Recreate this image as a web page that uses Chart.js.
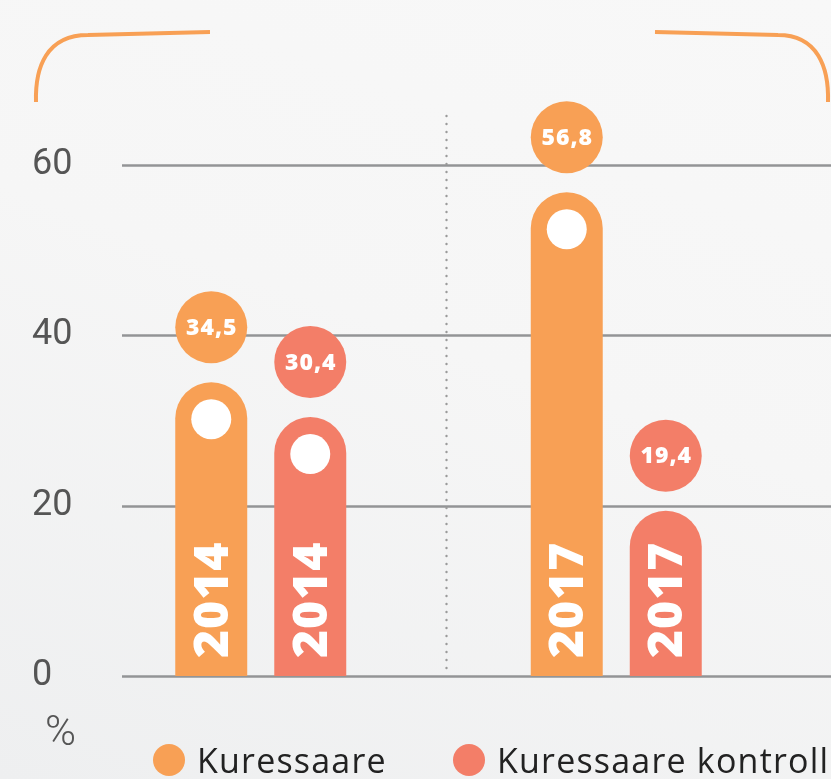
<!DOCTYPE html>
<html>
<head>
<meta charset="utf-8">
<script src="https://cdn.jsdelivr.net/npm/chart.js@4/dist/chart.umd.min.js"></script>
<style>
  html, body { margin: 0; padding: 0; }
  body { width: 831px; height: 779px; overflow: hidden;
         background: linear-gradient(20deg, #eeeff0 0%, #f6f6f6 55%, #f8f8f8 100%); }
  #wrap { position: relative; width: 831px; height: 779px; }
  #c { position: absolute; left: 0; top: 0; }
  .unit { position: absolute; left: 45px; top: 710px; font: 300 42px Roboto, sans-serif; color: #555; line-height: 42px; }
  .leg { position: absolute; top: 738px; font: 500 34px "Open Sans", sans-serif; letter-spacing: 1.2px;
         color: #222; white-space: nowrap; line-height: 44px; }
  .leg i { position: absolute; left: -44px; top: 6px; width: 32px; height: 32px; border-radius: 50%; }
</style>
</head>
<body>
<div id="wrap">
  <canvas id="c" width="831" height="779"></canvas>
  <div class="unit">%</div>
  <div id="legend"></div>
</div>
<script>
// ---- data ----
const categories = ['2014', '2017'];
const seriesNames = ['Kuressaare', 'Kuressaare kontroll'];
const kuressaare = [34.5, 56.8];
const kuressaareKontroll = [30.4, 19.4];
const yTicks = [0, 20, 40, 60];
const colors = ['#F8A055', '#F37E68'];

const fmt = v => v.toFixed(1).replace('.', ',');

// legend (HTML)
const legendPos = [197, 497];
const legendEl = document.getElementById('legend');
seriesNames.forEach((n, i) => {
  const d = document.createElement('div');
  d.className = 'leg';
  d.style.left = legendPos[i] + 'px';
  d.innerHTML = '<i style="background:' + colors[i] + '"></i>' + n;
  legendEl.appendChild(d);
});

const decor = {
  id: 'decor',
  beforeDatasetsDraw(chart) {
    const ctx = chart.ctx;
    const y = chart.scales.y, x = chart.scales.x;
    ctx.save();
    // grid lines
    ctx.strokeStyle = '#939496';
    ctx.lineWidth = 2.5;
    yTicks.forEach(t => {
      const py = Math.round(y.getPixelForValue(t)) + 0.5;
      ctx.beginPath();
      ctx.moveTo(122, py);
      ctx.lineTo(chart.width, py);
      ctx.stroke();
    });
    // dotted separator
    const sx = (x.getPixelForValue(0) + x.getPixelForValue(1)) / 2 + 8;
    ctx.fillStyle = '#9a9a9a';
    for (let py = 116; py < y.getPixelForValue(0) - 3; py += 8) {
      ctx.beginPath();
      ctx.arc(sx, py, 1.2, 0, Math.PI * 2);
      ctx.fill();
    }
    // top brackets
    ctx.strokeStyle = '#F8A055';
    ctx.lineWidth = 4;
    ctx.lineCap = 'butt';
    ctx.beginPath();
    ctx.moveTo(210, 32);
    ctx.lineTo(88, 35);
    ctx.bezierCurveTo(46, 35, 35, 68, 36, 102);
    ctx.stroke();
    ctx.beginPath();
    ctx.moveTo(655, 32);
    ctx.lineTo(778, 35);
    ctx.bezierCurveTo(818, 35, 829, 68, 828, 102);
    ctx.stroke();
    ctx.restore();
  },
  afterDatasetsDraw(chart) {
    const ctx = chart.ctx;
    ctx.save();
    chart.data.datasets.forEach((ds, di) => {
      const meta = chart.getDatasetMeta(di);
      meta.data.forEach((el, i) => {
        const v = ds.data[i];
        const cx = el.x, top = el.y;
        // value bubble
        ctx.fillStyle = colors[di];
        ctx.beginPath();
        ctx.arc(cx, top - 55, 36, 0, Math.PI * 2);
        ctx.fill();
        ctx.fillStyle = '#fff';
        ctx.font = '800 23px "Open Sans", sans-serif';
        ctx.letterSpacing = '1px';
        ctx.textAlign = 'center';
        ctx.textBaseline = 'middle';
        ctx.fillText(fmt(v), cx + 0.5, top - 54);
        // white dot on tall bars
        if (v > 25) {
          ctx.beginPath();
          ctx.arc(cx, top + 37, 20, 0, Math.PI * 2);
          ctx.fill();
        }
        // vertical year label
        ctx.save();
        ctx.translate(cx + 1, el.base - 18);
        ctx.rotate(-Math.PI / 2);
        ctx.font = '800 48px "Open Sans", sans-serif';
        ctx.letterSpacing = '1px';
        ctx.textAlign = 'left';
        ctx.textBaseline = 'middle';
        ctx.fillText(categories[i], 0, 2);
        ctx.restore();
      });
    });
    ctx.restore();
  }
};

new Chart(document.getElementById('c'), {
  type: 'bar',
  data: {
    labels: categories,
    datasets: [
      { label: seriesNames[0], data: kuressaare, backgroundColor: colors[0] },
      { label: seriesNames[1], data: kuressaareKontroll, backgroundColor: colors[1] }
    ]
  },
  options: {
    responsive: false,
    animation: false,
    devicePixelRatio: 1,
    layout: { padding: { left: 32, right: 37, top: 165, bottom: 103 } },
    datasets: {
      bar: {
        categoryPercentage: 0.557,
        barPercentage: 0.727,
        borderRadius: { topLeft: 36, topRight: 36, bottomLeft: 0, bottomRight: 0 },
        borderSkipped: false
      }
    },
    plugins: { legend: { display: false }, tooltip: { enabled: false } },
    scales: {
      x: { display: false },
      y: {
        min: 0, max: 60,
        afterBuildTicks: s => { s.ticks = yTicks.map(v => ({ value: v })); },
        afterFit: s => { s.width = 51; },
        grid: { display: false, drawTicks: false },
        border: { display: false },
        ticks: {
          crossAlign: 'far',
          padding: 0,
          color: '#555',
          font: { family: 'Roboto', size: 36, weight: '400' }
        }
      }
    }
  },
  plugins: [decor]
});
</script>
</body>
</html>
